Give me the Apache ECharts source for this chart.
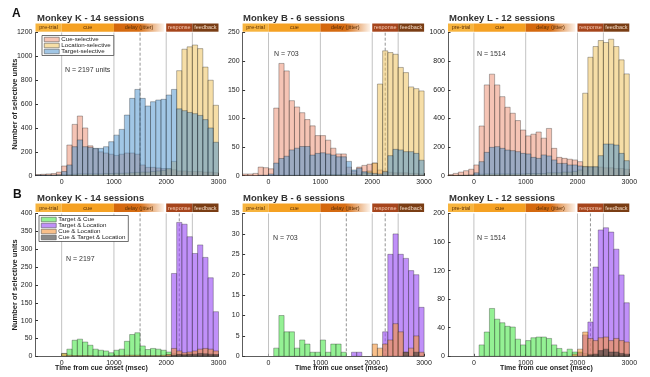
<!DOCTYPE html>
<html>
<head>
<meta charset="utf-8">
<script src="https://cdn.jsdelivr.net/npm/echarts@6/dist/echarts.min.js"></script>
<style>
  html, body { margin: 0; padding: 0; background: #fff; }
  #chart { width: 650px; height: 377px; }
</style>
</head>
<body>
<div id="chart"></div>
<script>
// bin left edges (msec from cue onset), 100 ms bins
const BINS = [-500, -400, -300, -200, -100, 0, 100, 200, 300, 400, 500, 600, 700, 800, 900,
  1000, 1100, 1200, 1300, 1400, 1500, 1600, 1700, 1800, 1900,
  2000, 2100, 2200, 2300, 2400, 2500, 2600, 2700, 2800, 2900]
const BIN = 100
const X_TICKS = [0, 1000, 2000, 3000]

// A - Monkey K
const kCue = [10, 12, 15, 18, 30, 81, 257, 430, 500, 400, 250, 225, 200, 190, 180,
  170, 180, 190, 190, 180, 90, 70, 70, 65, 60, 55, 50, 40, 40, 35, 35, 35, 30, 30, 25]
const kLoc = [2, 2, 3, 3, 5, 8, 10, 12, 15, 15, 15, 15, 15, 18, 18,
  20, 20, 22, 25, 28, 30, 30, 35, 40, 45, 60, 120, 880, 1060, 1080, 1095, 1065, 910, 800, 590]
const kTgt = [5, 5, 5, 5, 8, 35, 90, 243, 300, 243, 237, 229, 229, 243, 285,
  340, 388, 508, 648, 723, 648, 584, 620, 634, 640, 676, 723, 560, 545, 530, 520, 505, 470, 400, 280]
// A - Monkey B
const bCue = [3, 3, 4, 15, 14, 12, 118, 196, 183, 131, 120, 110, 98, 87, 70,
  70, 62, 48, 38, 38, 15, 8, 15, 18, 20, 22, 10, 8, 6, 5, 5, 5, 4, 4, 3]
const bLoc = [0, 0, 0, 0, 0, 0, 1, 1, 1, 1, 1, 1, 1, 1, 1,
  2, 2, 2, 2, 2, 3, 3, 2, 5, 8, 22, 160, 218, 215, 212, 189, 180, 155, 152, 148]
const bTgt = [0, 0, 0, 1, 1, 3, 22, 30, 34, 45, 48, 51, 51, 36, 39,
  40, 38, 36, 33, 33, 25, 10, 13, 7, 5, 4, 3, 7, 35, 46, 45, 42, 42, 39, 27]
// A - Monkey L
const lCue = [8, 16, 25, 35, 45, 75, 347, 634, 709, 634, 552, 478, 436, 385, 319,
  278, 290, 305, 262, 330, 191, 128, 121, 115, 110, 98, 65, 60, 60, 60, 55, 55, 50, 50, 45]
const lLoc = [2, 2, 3, 3, 5, 8, 10, 12, 12, 12, 12, 12, 12, 12, 12,
  15, 15, 15, 15, 20, 20, 20, 25, 25, 30, 40, 576, 827, 902, 944, 930, 953, 902, 809, 711]
const lTgt = [0, 0, 1, 2, 3, 20, 98, 163, 198, 203, 191, 179, 175, 168, 156,
  152, 128, 121, 145, 138, 110, 86, 86, 75, 75, 68, 63, 63, 63, 140, 221, 221, 214, 156, 105]

// B - Monkey K
const kTC = [0, 0, 0, 0, 0, 8, 20, 45, 48, 40, 31, 20, 17, 15, 10,
  17, 20, 42, 61, 66, 29, 19, 22, 20, 17, 12, 8, 5, 5, 5, 3, 3, 3, 3, 2]
const kTL = [0, 0, 0, 0, 0, 0, 0, 0, 0, 0, 0, 0, 0, 0, 0,
  0, 0, 0, 0, 0, 0, 0, 0, 0, 0, 3, 232, 375, 370, 335, 288, 312, 277, 220, 125]
const kCL = [0, 0, 0, 0, 0, 8, 3, 2, 2, 2, 2, 1, 1, 1, 1,
  2, 2, 3, 3, 3, 2, 2, 2, 2, 3, 5, 22, 15, 10, 12, 15, 20, 22, 20, 15]
const kCTL = [0, 0, 0, 0, 0, 0, 0, 0, 0, 0, 0, 0, 0, 0, 0,
  0, 0, 0, 0, 0, 0, 0, 0, 0, 0, 0, 3, 5, 4, 6, 6, 8, 7, 6, 5]
// B - Monkey B
const bTC = [0, 0, 0, 0, 0, 0, 2, 10, 6, 6, 2, 4, 3, 1, 1,
  4, 1, 3, 3, 1, 0, 0, 0, 0, 0, 0, 0, 0, 0, 0, 0, 0, 0, 0, 0]
const bTL = [0, 0, 0, 0, 0, 0, 0, 0, 0, 0, 0, 0, 0, 0, 0,
  0, 0, 0, 0, 0, 0, 1, 1, 0, 0, 0, 0, 6, 25, 30, 25, 24, 21, 20, 12]
const bCL = [0, 0, 0, 0, 0, 0, 0, 0, 0, 0, 0, 0, 0, 0, 0,
  0, 0, 0, 0, 0, 0, 0, 0, 0, 0, 3, 2, 3, 4, 8, 6, 1, 2, 5, 1]
const bCTL = [0, 0, 0, 0, 0, 0, 0, 0, 0, 0, 0, 0, 0, 0, 0,
  0, 0, 0, 0, 0, 0, 0, 0, 0, 0, 0, 0, 0, 0, 0, 0, 1, 0, 1, 0]
// B - Monkey L
const lTC = [0, 0, 0, 0, 0, 0, 16, 34, 67, 52, 47, 42, 41, 24, 16,
  22, 26, 27, 27, 25, 16, 11, 6, 10, 6, 6, 4, 3, 3, 3, 2, 2, 2, 2, 1]
const lTL = [0, 0, 0, 0, 0, 0, 0, 0, 0, 0, 0, 0, 0, 0, 0,
  0, 0, 0, 0, 0, 0, 0, 0, 0, 0, 5, 30, 48, 125, 177, 180, 174, 150, 114, 75]
const lCL = [0, 0, 0, 0, 0, 0, 0, 0, 0, 0, 0, 0, 0, 0, 0,
  0, 0, 0, 0, 0, 0, 0, 0, 0, 3, 10, 34, 25, 22, 26, 27, 22, 25, 22, 20]
const lCTL = [0, 0, 0, 0, 0, 0, 0, 0, 0, 0, 0, 0, 0, 0, 0,
  0, 0, 0, 0, 0, 0, 0, 0, 0, 0, 0, 0, 2, 3, 8, 10, 6, 6, 4, 3]

// task epochs drawn above each panel
const EPOCH_NAMES = ['pre-trial', 'cue', 'delay (jitter)', 'response', 'feedback']
const EPOCH_START = [-500, 0, 1000, 2000, 2500]
const EPOCH_END = [0, 1000, 1960, 2500, 3000]

const FONT = 'Liberation Sans'

const CUE = 'rgba(232,125,90,0.45)'
const LOC = 'rgba(238,190,80,0.5)'
const TGT = 'rgba(75,145,205,0.52)'
const G_TC = 'rgba(60,230,60,0.55)'
const G_TL = 'rgba(150,70,245,0.6)'
const G_CL = 'rgba(245,150,60,0.6)'
const G_CTL = 'rgba(60,60,60,0.6)'

const EPOCH_FILL = [
  '#f7b43e',
  '#f5a123',
  new echarts.graphic.LinearGradient(0, 0, 1, 0, [
    { offset: 0, color: '#d4670c' },
    { offset: 0.5, color: '#d66d14' },
    { offset: 1, color: '#fdf3ea' },
  ]),
  '#a6451c',
  '#7a3d14',
]
const EPOCH_TEXT = ['#5a2e05', '#5a2e05', '#5a2e05', '#f6cdb8', '#f3dcc8']

const COLS = [
  { left: 35.5, width: 183 },
  { left: 242.6, width: 181.5 },
  { left: 448, width: 181.3 },
]
const ROW_TOP = [32.5, 213.5]
const ROW_H = [143.2, 142.8]
const BAND_TOP = [23.5, 203.5]
const BAND_H = [8.2, 8.5]

const panels = [
  { row: 0, col: 0, yMax: 1200, yInt: 200, solid: [0, 1000, 2000, 2500], dashed: [1500],
    hist: [['Cue-selective', kCue, CUE], ['Location-selective', kLoc, LOC], ['Target-selective', kTgt, TGT]] },
  { row: 0, col: 1, yMax: 250, yInt: 50, solid: [0, 1000, 2000, 2500], dashed: [2250],
    hist: [['Cue-selective', bCue, CUE], ['Location-selective', bLoc, LOC], ['Target-selective', bTgt, TGT]] },
  { row: 0, col: 2, yMax: 1000, yInt: 200, solid: [0, 1000, 2000, 2500], dashed: [],
    hist: [['Cue-selective', lCue, CUE], ['Location-selective', lLoc, LOC], ['Target-selective', lTgt, TGT]] },
  { row: 1, col: 0, yMax: 400, yInt: 50, solid: [0, 1000, 2000, 2500], dashed: [1500, 2250],
    hist: [['Target & Cue', kTC, G_TC], ['Target & Location', kTL, G_TL], ['Cue & Location', kCL, G_CL], ['Cue & Target & Location', kCTL, G_CTL]] },
  { row: 1, col: 1, yMax: 35, yInt: 5, solid: [0, 1000, 2000, 2500], dashed: [1500, 2250],
    hist: [['Target & Cue', bTC, G_TC], ['Target & Location', bTL, G_TL], ['Cue & Location', bCL, G_CL], ['Cue & Target & Location', bCTL, G_CTL]] },
  { row: 1, col: 2, yMax: 200, yInt: 40, solid: [0, 1000, 2000, 2500], dashed: [2250],
    hist: [['Target & Cue', lTC, G_TC], ['Target & Location', lTL, G_TL], ['Cue & Location', lCL, G_CL], ['Cue & Target & Location', lCTL, G_CTL]] },
]

function histSeries(name, values, fill, g) {
  return {
    type: 'custom',
    name: name,
    xAxisIndex: g,
    yAxisIndex: g,
    z: 2,
    clip: true,
    itemStyle: { color: fill, borderColor: '#333', borderWidth: 0.6 },
    data: BINS.map((b, i) => [b, values[i]]),
    renderItem: function (params, api) {
      const v = api.value(1)
      if (!v) return null
      const x0 = api.value(0)
      const p0 = api.coord([x0, v])
      const p1 = api.coord([x0 + BIN, 0])
      return {
        type: 'rect',
        shape: { x: p0[0], y: p0[1], width: p1[0] - p0[0], height: p1[1] - p0[1] },
        style: { fill: fill, stroke: 'rgba(25,25,25,0.58)', lineWidth: 0.55 },
      }
    },
  }
}

// vertical event lines (solid = 0, dashed = 1)
function eventLines(p, g) {
  const data = p.solid.map((v) => [v, 0]).concat(p.dashed.map((v) => [v, 1]))
  return {
    type: 'custom',
    xAxisIndex: g,
    yAxisIndex: g,
    z: 1,
    silent: true,
    data: data,
    renderItem: function (params, api) {
      const x = api.value(0)
      const d = api.value(1)
      const a = api.coord([x, 0])
      const b = api.coord([x, p.yMax])
      return {
        type: 'line',
        shape: { x1: a[0], y1: a[1], x2: b[0], y2: b[1] },
        style: { stroke: d ? '#777' : '#b3b3b3', lineWidth: 0.8, lineDash: d ? [3, 2] : null },
      }
    },
  }
}

function epochBand(g) {
  return {
    type: 'custom',
    xAxisIndex: g,
    yAxisIndex: g,
    silent: true,
    data: EPOCH_START.map((s, i) => [s, EPOCH_END[i], i]),
    renderItem: function (params, api) {
      const i = api.value(2)
      const p0 = api.coord([api.value(0), 1])
      const p1 = api.coord([api.value(1), 0])
      return {
        type: 'group',
        children: [
          { type: 'rect', shape: { x: p0[0], y: p0[1], width: p1[0] - p0[0], height: p1[1] - p0[1] },
            style: { fill: EPOCH_FILL[i] } },
          { type: 'text',
            style: { text: EPOCH_NAMES[i], x: (p0[0] + p1[0]) / 2, y: (p0[1] + p1[1]) / 2 + 0.3,
              align: 'center', verticalAlign: 'middle', fontSize: 5.5, fontFamily: FONT, fill: EPOCH_TEXT[i] } },
        ],
      }
    },
  }
}

const grid = []
const xAxis = []
const yAxis = []
const series = []
const plain = (v) => String(v)

panels.forEach((p, g) => {
  const c = COLS[p.col]
  grid.push({ left: c.left, width: c.width, top: ROW_TOP[p.row], height: ROW_H[p.row] })
  xAxis.push({
    gridIndex: g, type: 'value', min: -500, max: 3000,
    axisLine: { show: true, lineStyle: { color: '#333', width: 0.8 } },
    axisTick: { show: true, inside: true, length: 2.5, customValues: X_TICKS, lineStyle: { color: '#333' } },
    axisLabel: { customValues: X_TICKS, formatter: plain, fontSize: 7, color: '#222', margin: 3, fontFamily: FONT },
    splitLine: { show: false },
  })
  const y = {
    gridIndex: g, type: 'value', min: 0, max: p.yMax, interval: p.yInt,
    axisLine: { show: true, onZero: false, lineStyle: { color: '#333', width: 0.8 } },
    axisTick: { show: true, inside: true, length: 2.5, lineStyle: { color: '#333' } },
    axisLabel: { formatter: plain, fontSize: 7, color: '#222', margin: 3, fontFamily: FONT },
    splitLine: { show: false },
  }
  if (p.col === 0) {
    y.name = 'Number of selective units'
    y.nameLocation = 'middle'
    y.nameGap = 17
    y.nameMoveOverlap = false
    y.nameTextStyle = { fontSize: 7.5, fontWeight: 'bold', color: '#222', fontFamily: FONT }
  }
  yAxis.push(y)
  series.push(eventLines(p, g))
  p.hist.forEach((h) => series.push(histSeries(h[0], h[1], h[2], g)))
})

panels.forEach((p, i) => {
  const g = panels.length + i
  const c = COLS[p.col]
  grid.push({ left: c.left, width: c.width, top: BAND_TOP[p.row], height: BAND_H[p.row] })
  xAxis.push({ gridIndex: g, type: 'value', min: -500, max: 3000, show: false })
  yAxis.push({ gridIndex: g, type: 'value', min: 0, max: 1, show: false })
  series.push(epochBand(g))
})

const titles = ['Monkey K - 14 sessions', 'Monkey B - 6 sessions', 'Monkey L - 12 sessions']
const nLabels = [
  ['N = 2197 units', 65, 67], ['N = 703', 274, 51], ['N = 1514', 477, 51],
  ['N = 2197', 66, 255.5], ['N = 703', 273, 235], ['N = 1514', 477, 235],
]

const graphic = []
graphic.push({ type: 'text', left: 12, top: 8, style: { text: 'A', font: 'bold 12px ' + FONT, fill: '#111' } })
graphic.push({ type: 'text', left: 13, top: 189, style: { text: 'B', font: 'bold 12px ' + FONT, fill: '#111' } })
;[37, 243, 449].forEach((x, i) => {
  graphic.push({ type: 'text', left: x, top: 13, style: { text: titles[i], font: 'bold 9.5px ' + FONT, fill: '#333' } })
  graphic.push({ type: 'text', left: x, top: 193.5, style: { text: titles[i], font: 'bold 9.5px ' + FONT, fill: '#333' } })
})
nLabels.forEach((n) => {
  graphic.push({ type: 'text', left: n[1], top: n[2], style: { text: n[0], font: '7px ' + FONT, fill: '#333' } })
})
;[55, 295, 500].forEach((x) => {
  graphic.push({ type: 'text', left: x, top: 364.5, style: { text: 'Time from cue onset (msec)', font: 'bold 7px ' + FONT, fill: '#222' } })
})

const legendBase = {
  orient: 'vertical',
  icon: 'rect',
  itemWidth: 15,
  itemHeight: 4.5,
  itemGap: 0,
  padding: [1, 3, 1, 2],
  selectedMode: false,
  backgroundColor: '#fff',
  borderColor: '#333',
  borderWidth: 0.7,
  itemStyle: { borderColor: '#444', borderWidth: 0.5 },
  textStyle: { fontSize: 6.2, color: '#222', fontFamily: FONT, lineHeight: 6, padding: [0, 0, 0, -3] },
}

var myChart = echarts.init(document.getElementById('chart'))
myChart.setOption({
  backgroundColor: '#fff',
  animation: false,
  textStyle: { fontFamily: FONT },
  grid: grid,
  xAxis: xAxis,
  yAxis: yAxis,
  legend: [
    Object.assign({}, legendBase, { left: 42, top: 35.5, data: ['Cue-selective', 'Location-selective', 'Target-selective'] }),
    Object.assign({}, legendBase, { left: 39, top: 215.5, data: ['Target & Cue', 'Target & Location', 'Cue & Location', 'Cue & Target & Location'] }),
  ],
  graphic: graphic,
  series: series,
})
</script>
</body>
</html>
